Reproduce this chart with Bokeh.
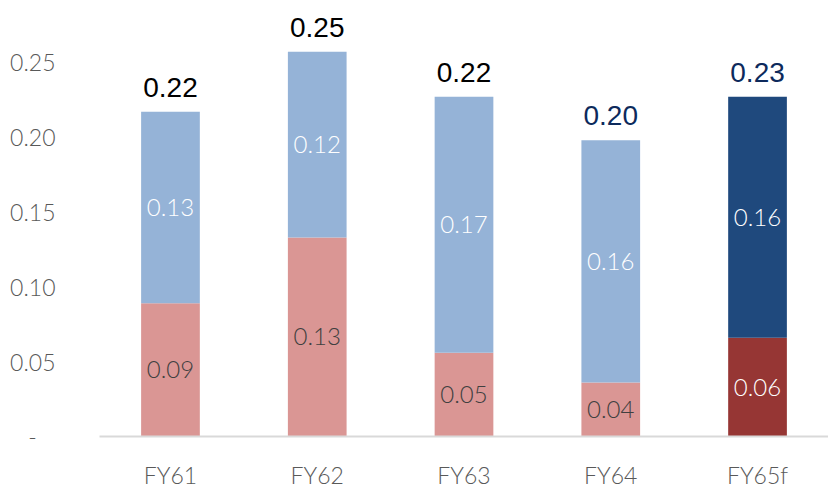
from bokeh.plotting import figure
from bokeh.models import ColumnDataSource, FactorRange, Range1d, FixedTicker
from bokeh.core.properties import value
from bokeh.embed import file_html
from bokeh.resources import INLINE

categories = ["FY61", "FY62", "FY63", "FY64", "FY65f"]
bottom_vals = [0.089, 0.133, 0.056, 0.036, 0.066]
top_vals = [0.128, 0.124, 0.171, 0.162, 0.161]
bottom_labels = ["0.09", "0.13", "0.05", "0.04", "0.06"]
top_labels = ["0.13", "0.12", "0.17", "0.16", "0.16"]
total_labels = ["0.22", "0.25", "0.22", "0.20", "0.23"]
y_ticks = [0, 0.05, 0.10, 0.15, 0.20, 0.25]
y_tick_labels = ["-\u00a0\u00a0\u00a0", "0.05", "0.10", "0.15", "0.20", "0.25"]

bottom_colors = ["#DA9694", "#DA9694", "#DA9694", "#DA9694", "#963634"]
top_colors = ["#95B3D7", "#95B3D7", "#95B3D7", "#95B3D7", "#1F497D"]
bottom_text_colors = ["#404040", "#404040", "#404040", "#404040", "#FFFFFF"]
total_text_colors = ["#000000", "#000000", "#000000", "#0D2A5C", "#0D2A5C"]

totals = [b + t for b, t in zip(bottom_vals, top_vals)]
src = ColumnDataSource(dict(
    x=categories,
    b=bottom_vals,
    tot=totals,
    bmid=[b / 2 for b in bottom_vals],
    tmid=[b + t / 2 for b, t in zip(bottom_vals, top_vals)],
    bl=bottom_labels,
    tl=top_labels,
    totl=total_labels,
    bc=bottom_colors,
    tc=top_colors,
    btc=bottom_text_colors,
    totc=total_text_colors,
))

light = "Lato Light"

p = figure(width=828, height=491,
           x_range=FactorRange(*categories, range_padding=-0.0164, range_padding_units="absolute"),
           y_range=Range1d(0, 0.2913), output_backend="svg", toolbar_location=None,
           min_border_left=99, min_border_right=0, min_border_top=0, min_border_bottom=54)
p.outline_line_color = None
p.grid.visible = False
p.background_fill_color = "white"
p.border_fill_color = "white"

p.vbar(x="x", bottom=0, top="b", width=0.4, fill_color="bc", line_color=None, source=src)
p.vbar(x="x", bottom="b", top="tot", width=0.4, fill_color="tc", line_color=None, source=src)

p.text(x="x", y="bmid", text="bl", text_color="btc", text_font=value(light),
       text_font_size="24px", text_align="center", text_baseline="middle", source=src)
p.text(x="x", y="tmid", text="tl", text_color="white", text_font=value(light),
       text_font_size="24px", text_align="center", text_baseline="middle", source=src)
p.text(x="x", y="tot", text="totl", text_color="totc", text_font=value("Liberation Sans"),
       text_font_size="28px", text_align="center", text_baseline="bottom", y_offset=-15,
       source=src)

xa = p.xaxis[0]
xa.axis_line_color = "#D9D9D9"
xa.axis_line_width = 2
xa.major_tick_line_color = None
xa.minor_tick_line_color = None
xa.major_tick_out = 0
xa.major_tick_in = 0
xa.major_label_text_font = light
xa.major_label_text_font_size = "23px"
xa.major_label_text_color = "#595959"
xa.major_label_standoff = 24

ya = p.yaxis[0]
ya.ticker = FixedTicker(ticks=y_ticks)
ya.major_label_overrides = {t: l for t, l in zip(y_ticks, y_tick_labels)}
ya.axis_line_color = None
ya.major_tick_line_color = None
ya.minor_tick_line_color = None
ya.major_tick_out = 0
ya.major_tick_in = 0
ya.major_label_text_font = light
ya.major_label_text_font_size = "23px"
ya.major_label_text_color = "#595959"
ya.major_label_standoff = 44

open("out.html", "w").write(file_html(p, INLINE))
